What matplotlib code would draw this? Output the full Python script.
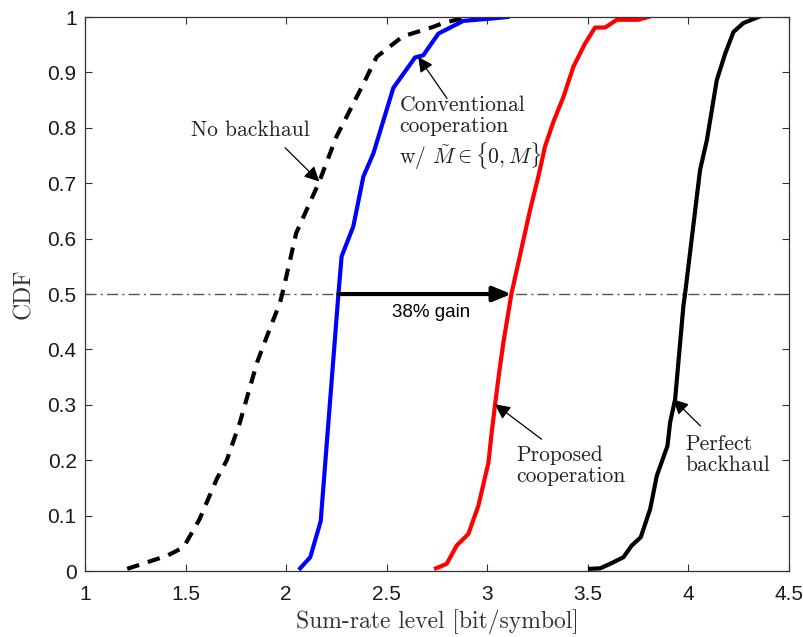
import numpy as np
import matplotlib.pyplot as plt

plt.rcParams['mathtext.fontset'] = 'cm'
plt.rcParams['font.family'] = ['Liberation Sans', 'DejaVu Sans']

# CDF curves: (sum-rate, CDF)
nobh_x = [1.21, 1.41, 1.49, 1.57, 1.655, 1.705, 1.77, 1.855, 1.905, 1.97, 1.99,
          2.05, 2.165, 2.25, 2.385, 2.45, 2.58, 2.73, 2.78, 2.88, 2.95]
nobh_y = [0.004, 0.028, 0.043, 0.094, 0.166, 0.2, 0.268, 0.376, 0.424, 0.485, 0.514,
          0.61, 0.703, 0.784, 0.88, 0.928, 0.965, 0.982, 0.989, 0.998, 1.0]

conv_x = [2.07, 2.12, 2.172, 2.26, 2.276, 2.334, 2.384, 2.434, 2.533, 2.641,
          2.682, 2.757, 2.881, 3.014, 3.1]
conv_y = [0.005, 0.025, 0.09, 0.5, 0.568, 0.622, 0.712, 0.754, 0.872, 0.927,
          0.931, 0.97, 0.993, 0.997, 1.0]

prop_x = [2.745, 2.798, 2.848, 2.906, 2.956, 3.006, 3.022, 3.039, 3.059, 3.08,
          3.12, 3.213, 3.254, 3.287, 3.329, 3.379, 3.428, 3.486, 3.536, 3.586,
          3.644, 3.751, 3.8]
prop_y = [0.005, 0.013, 0.046, 0.067, 0.118, 0.196, 0.25, 0.301, 0.358, 0.412,
          0.5, 0.652, 0.712, 0.766, 0.811, 0.856, 0.91, 0.952, 0.981, 0.981,
          0.995, 0.995, 1.0]

perf_x = [3.511, 3.561, 3.611, 3.677, 3.718, 3.763, 3.81, 3.843, 3.896, 3.909,
          3.934, 3.975, 3.984, 4.058, 4.092, 4.141, 4.183, 4.224, 4.273, 4.348]
perf_y = [0.004, 0.005, 0.013, 0.025, 0.046, 0.061, 0.112, 0.172, 0.226, 0.268,
          0.31, 0.478, 0.502, 0.724, 0.778, 0.886, 0.934, 0.973, 0.989, 1.0]

xticks = [1, 1.5, 2, 2.5, 3, 3.5, 4, 4.5]
yticks = np.round(np.arange(0, 1.01, 0.1), 1)

fig = plt.figure(figsize=(8.04, 6.37), dpi=100)
ax = fig.add_axes([0.1057, 0.1035, 0.8756, 0.8698])

ax.axhline(0.5, color='#555555', lw=1.0, ls='-.', dashes=(8, 3, 1.5, 3))
ax.plot(nobh_x, nobh_y, 'k--', lw=3, dashes=(3, 2.2))
ax.plot(conv_x, conv_y, color='#0000ff', lw=3)
ax.plot(prop_x, prop_y, color='#ff0000', lw=3)
ax.plot(perf_x, perf_y, 'k-', lw=3)

ax.set_xlim(1, 4.5)
ax.set_ylim(0, 1)
ax.set_xticks(xticks)
ax.set_xticklabels([f'{t:g}' for t in xticks])
ax.set_yticks(yticks)
ax.set_yticklabels([f'{t:g}' for t in yticks])
ax.tick_params(direction='in', length=5, width=0.8, labelsize=15, color='#333333',
               labelcolor='#1a1a1a', top=True, right=True)
ax.tick_params(axis='x', pad=10)
ax.tick_params(axis='y', pad=6)
for s in ax.spines.values():
    s.set_color('#333333')
    s.set_linewidth(0.9)

ax.set_xlabel('Sum-rate level [bit/symbol]', family='cmr10', fontsize=17, color='#333333',
              labelpad=4)
ax.set_ylabel('CDF', family='cmr10', fontsize=17, color='#333333', labelpad=9)

arw = dict(arrowstyle='-|>,head_length=0.9,head_width=0.45', color='k', lw=0.9,
           shrinkA=0, shrinkB=0)
txt = dict(family='cmr10', fontsize=15.5, color='#222222', linespacing=1.15)

ax.annotate('', xy=(2.165, 0.703), xytext=(1.995, 0.764), arrowprops=arw)
ax.text(1.82, 0.796, 'No backhaul', ha='center', va='center', **txt)

ax.annotate('', xy=(2.657, 0.928), xytext=(2.8, 0.853), arrowprops=arw)
ax.text(2.563, 0.79, 'Conventional\ncooperation\nw/ $\\tilde{M}\\in\\{0,M\\}$',
        ha='left', va='center', **txt)

ax.annotate('', xy=(3.039, 0.301), xytext=(3.27, 0.238), arrowprops=arw)
ax.text(3.143, 0.19, 'Proposed\ncooperation', ha='left', va='center', **txt)

ax.annotate('', xy=(3.925, 0.31), xytext=(4.06, 0.262), arrowprops=arw)
ax.text(3.984, 0.21, 'Perfect\nbackhaul', ha='left', va='center', **txt)

ax.annotate('', xy=(3.12, 0.5), xytext=(2.26, 0.5),
            arrowprops=dict(arrowstyle='-|>,head_length=1.1,head_width=0.45',
                            color='k', lw=3, shrinkA=0, shrinkB=0))
ax.text(2.72, 0.466, '38% gain', ha='center', va='center', fontsize=13.5)

fig.savefig('out.png', dpi=100)
